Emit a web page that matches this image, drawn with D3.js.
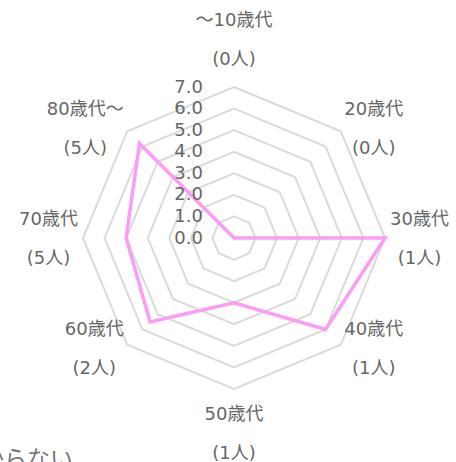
<!DOCTYPE html>
<html>
<head>
<meta charset="utf-8">
<script src="https://cdn.jsdelivr.net/npm/d3@7"></script>
<style>
  html, body { margin: 0; padding: 0; background: #fff; overflow: hidden; }
  #radar-container svg { display: block; }
</style>
</head>
<body>
<div id="radar-container"></div>
<script>
// categories (age groups) and the respondent counts shown under them
const categories = ["～10歳代", "20歳代", "30歳代", "40歳代", "50歳代", "60歳代", "70歳代", "80歳代～"];
const counts = ["(0人)", "(0人)", "(1人)", "(1人)", "(1人)", "(2人)", "(5人)", "(5人)"];
// plotted values
const values = [0, 0, 7, 6, 3, 5.5, 5, 6.2];
// radial tick labels
const ticks = [0, 1, 2, 3, 4, 5, 6, 7];

const width = 456;
const height = 462;
const cx = 234;
const cy = 238;
const radius = 151;
const font = "'DejaVu Sans', 'Noto Sans CJK JP', sans-serif";

const svg = d3.select('#radar-container')
    .append('svg')
    .attr('width', width)
    .attr('height', height);

// radial scale
const r = d3.scaleLinear()
    .domain([0, d3.max(ticks)])
    .range([0, radius]);

// angle for each category, first one at the top, clockwise
const angle = d3.scalePoint()
    .domain(categories)
    .range([0, 2 * Math.PI * (categories.length - 1) / categories.length]);

const point = (cat, v) => {
    const a = angle(cat);
    return [cx + r(v) * Math.sin(a), cy - r(v) * Math.cos(a)];
};

// grid polygons
const ring = d3.line().curve(d3.curveLinearClosed);
svg.append('g')
    .selectAll('path')
    .data(ticks.filter(t => t > 0))
    .join('path')
    .attr('d', t => ring(categories.map(c => point(c, t))))
    .attr('fill', 'none')
    .attr('stroke', '#dadada')
    .attr('stroke-width', 2);

// the data line
svg.append('path')
    .datum(categories.map((c, i) => point(c, values[i])))
    .attr('d', ring)
    .attr('fill', 'none')
    .attr('stroke', '#fb9cf5')
    .attr('stroke-width', 3.5)
    .attr('stroke-linejoin', 'miter');

// tick labels, right of the vertical axis
svg.append('g')
    .attr('font-family', font)
    .attr('font-size', 18)
    .attr('fill', '#666')
    .attr('text-anchor', 'end')
    .selectAll('text')
    .data(ticks)
    .join('text')
    .attr('x', cx - 31)
    .attr('y', t => cy - r(t) - 1)
    .attr('dominant-baseline', 'central')
    .text(t => t.toFixed(1));

// point labels (two lines, centered within their block)
const labelRadius = radius + 5;
const lineHeight = 39;
const labels = svg.append('g')
    .attr('font-family', font)
    .attr('font-size', 18)
    .attr('fill', '#666')
    .attr('text-anchor', 'middle');

categories.forEach((c, i) => {
    const a = angle(c);
    const s = Math.sin(a), co = Math.cos(a);
    const px = cx + labelRadius * s;
    const py = cy - labelRadius * co;
    const lines = [c, counts[i]];
    const tmp = labels.append('text').text(c);
    const w = Math.max(tmp.node().getComputedTextLength(),
        tmp.text(counts[i]).node().getComputedTextLength());
    tmp.remove();
    const h = lineHeight * lines.length;
    let x = px;
    if (s > 0.1) x = px + w / 2;
    else if (s < -0.1) x = px - w / 2;
    let top;
    if (co > 0.9) top = py - h - 4;
    else if (co < -0.9) top = py;
    else top = py - h / 2;
    lines.forEach((t, j) => {
        labels.append('text')
            .attr('x', x)
            .attr('y', top + lineHeight * (j + 0.5))
            .attr('dominant-baseline', 'central')
            .text(t);
    });
});

// legend item cut by the bottom edge
svg.append('text')
    .attr('x', -42)
    .attr('y', 467)
    .attr('font-family', "'Noto Sans CJK JP', sans-serif")
    .attr('font-size', 23)
    .attr('fill', '#777')
    .text('わからない');
</script>
</body>
</html>
